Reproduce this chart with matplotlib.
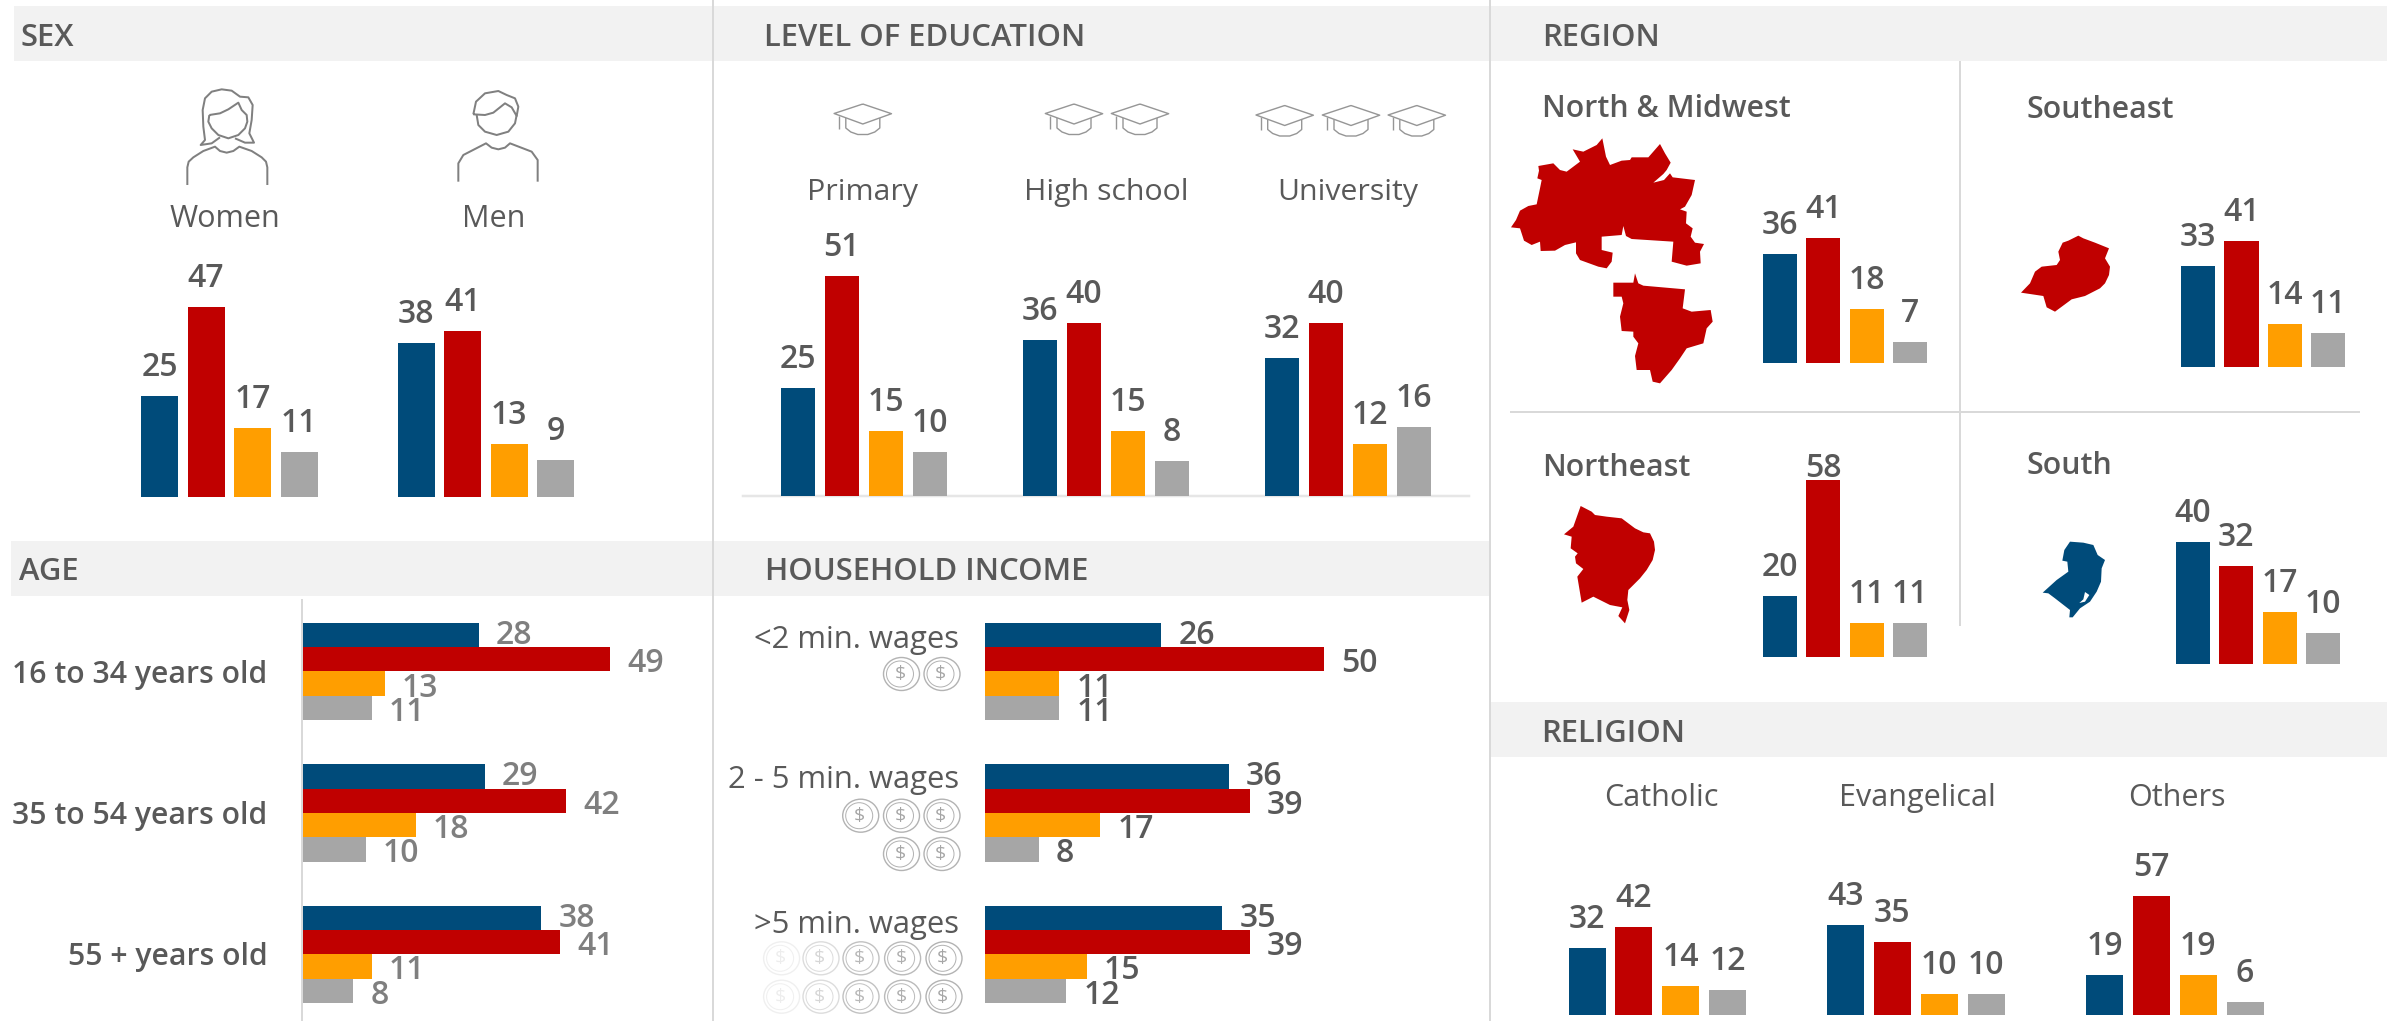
# ./plot.py
import matplotlib
matplotlib.use("Agg")
import matplotlib.pyplot as plt
from matplotlib.patches import Ellipse, Polygon, Rectangle

W, H = 2387, 1021

# data
sex_labels = ["Women", "Men"]
sex_values = [[25, 47, 17, 11], [38, 41, 13, 9]]

edu_labels = ["Primary", "High school", "University"]
edu_values = [[25, 51, 15, 10], [36, 40, 15, 8], [32, 40, 12, 16]]

age_labels = ["16 to 34 years old", "35 to 54 years old", "55 + years old"]
age_values = [[28, 49, 13, 11], [29, 42, 18, 10], [38, 41, 11, 8]]

income_labels = ["<2 min. wages", "2 - 5 min. wages", ">5 min. wages"]
income_values = [[26, 50, 11, 11], [36, 39, 17, 8], [35, 39, 15, 12]]

region_labels = ["North & Midwest", "Southeast", "Northeast", "South"]
region_values = [[36, 41, 18, 7], [33, 41, 14, 11], [20, 58, 11, 11], [40, 32, 17, 10]]

religion_labels = ["Catholic", "Evangelical", "Others"]
religion_values = [[32, 42, 14, 12], [43, 35, 10, 10], [19, 57, 19, 6]]

COLORS = ["#004b7a", "#c00000", "#ff9e00", "#a6a6a6"]
TEXT = "#595959"
LINE = "#d9d9d9"
BAND = "#f2f2f2"
FONT = "Open Sans"
VAL_SIZE = 23
px = 0.72  # pixels to points at dpi 100

plt.rcParams["font.family"] = [FONT, "DejaVu Sans"]

fig = plt.figure(figsize=(W / 100, H / 100), dpi=100, facecolor="white")

# full size axes in pixel coordinates for the bands, icons and titles
bg = fig.add_axes([0, 0, 1, 1])
bg.set_xlim(0, W)
bg.set_ylim(H, 0)
bg.axis("off")


def vbars(x0, base, values, unit, width, pitch, gap=20, gaps=None):
    base = base + 0.5
    span = pitch * 3 + width
    tall = max(values) * unit + 50
    ax = fig.add_axes([x0 / W, 1 - base / H, span / W, tall / H])
    ax.set_xlim(-width / 2 / pitch, 3 + width / 2 / pitch)
    ax.set_ylim(0, tall / unit)
    ax.axis("off")
    ax.bar(range(4), values, width=width / pitch, color=COLORS)
    for i, v in enumerate(values):
        g = gaps[i] if gaps else gap
        ax.annotate(str(v), (i, v), xytext=(0, g * px), textcoords="offset points",
                    ha="center", va="baseline", fontsize=VAL_SIZE, color=TEXT,
                    fontweight="semibold", annotation_clip=False)


def hbars(x0, y0, values, unit, height, color):
    y0 = y0 + 0.5
    span = max(values) * unit + 60
    ax = fig.add_axes([x0 / W, 1 - (y0 + height * 4) / H, span / W, height * 4 / H])
    ax.set_xlim(0, span / unit)
    ax.set_ylim(3.5, -0.5)
    ax.axis("off")
    ax.barh(range(4), values, height=1.0, color=COLORS)
    for i, v in enumerate(values):
        drop = 9 if i == 0 else 13
        ax.annotate(str(v), (v, i), xytext=(17 * px, -drop * px), textcoords="offset points",
                    ha="left", va="baseline", fontsize=VAL_SIZE, color=color,
                    fontweight="semibold", annotation_clip=False)


def line(pts, ox, oy, s=1 / 3, color="#808080", lw=2.0):
    bg.plot([ox + p[0] * s for p in pts], [oy + p[1] * s for p in pts], color=color,
            lw=lw * px, solid_joinstyle="round", solid_capstyle="butt")


def shape(pts, ox, oy, color, s=1 / 3):
    bg.add_patch(Polygon([(ox + p[0] * s, oy + p[1] * s) for p in pts], closed=True,
                         facecolor=color, edgecolor="none"))


def cap(cx, ty):
    c = "#969696"
    line([(0, 0), (28.7, 9.7), (0, 20), (-28.7, 9.5), (0, 0)], cx, ty, s=1, color=c, lw=1.4)
    line([(-17, 14), (-17, 24), (-12, 28), (-5, 30.5), (5, 30.5), (12, 28), (17, 24), (17, 14)],
         cx, ty, s=1, color=c, lw=1.4)
    line([(-23.7, 12), (-23.7, 25)], cx, ty, s=1, color=c, lw=1.4)


def coin(cx, cy, alpha=1.0):
    c = "#b3b3b3"
    bg.add_patch(Ellipse((cx, cy), 36, 33, facecolor="none", edgecolor=c, lw=1.4 * px, alpha=alpha))
    bg.add_patch(Ellipse((cx - 1.5, cy), 27, 26, facecolor="none", edgecolor=c, lw=1.0 * px, alpha=alpha))
    bg.text(cx - 1.5, cy, "$", ha="center", va="center", fontsize=14, color="#a6a6a6", alpha=alpha)


# bands
bg.add_patch(Rectangle((14, 6), W - 14, 55, color=BAND, lw=0))
bg.add_patch(Rectangle((11, 541), 1490 - 11, 55, color=BAND, lw=0))
bg.add_patch(Rectangle((1490, 702), W - 1490, 55, color=BAND, lw=0))

# dividers
bg.plot([713, 713], [0, H], color=LINE, lw=2 * px)
bg.plot([1490, 1490], [0, H], color=LINE, lw=2 * px)
bg.plot([302, 302], [600, H], color=LINE, lw=2 * px)
bg.plot([1960, 1960], [62, 625], color=LINE, lw=2 * px)
bg.plot([1511, 2359], [412, 412], color=LINE, lw=2 * px)
bg.plot([743, 1469], [496, 496], color="#e6e6e6", lw=2.5 * px)

# section titles
for txt, x, y in [("SEX", 21, 46), ("LEVEL OF EDUCATION", 764, 46), ("REGION", 1542, 46),
                  ("AGE", 19, 580), ("HOUSEHOLD INCOME", 765, 580), ("RELIGION", 1541, 742)]:
    bg.text(x, y, txt, ha="left", va="baseline", fontsize=22.3, color=TEXT, fontweight="semibold")

# sex
for lab, x in zip(sex_labels, [225, 493.5]):
    bg.text(x, 227, lab, ha="center", va="baseline", fontsize=22, color=TEXT)
for vals, x in zip(sex_values, [141, 397.6]):
    vbars(x, 496, vals, 4.04, 37, 46.5)

line([(52, 315), (52, 262), (56, 245), (70, 232), (100, 213), (135, 200), (150, 213), (170, 218),
      (190, 213), (208, 200), (245, 213), (275, 232), (288, 245), (292, 262), (292, 315)], 170, 80)
line([(118, 105), (150, 100), (175, 88), (205, 68), (215, 90), (230, 105), (232, 125), (225, 145),
      (205, 165), (175, 175), (145, 165), (125, 145), (115, 125), (118, 105)], 170, 80)
line([(195, 175), (225, 188), (252, 188), (238, 160), (245, 120), (248, 75), (235, 52), (210, 50),
      (185, 32), (155, 28), (125, 35), (105, 55), (98, 90), (100, 140), (105, 180), (92, 195),
      (125, 190), (150, 172)], 170, 80)
line([(865, 305), (865, 250), (880, 225), (948, 190), (965, 203), (985, 208), (1005, 203),
      (1020, 190), (1085, 215), (1103, 240), (1103, 305)], 170, 80)
line([(920, 105), (925, 135), (945, 155), (980, 165), (1015, 155), (1035, 130), (1040, 105)], 170, 80)
line([(910, 103), (945, 105), (970, 98), (1005, 70), (1025, 82), (1040, 108), (1045, 80), (1035, 55),
      (1010, 45), (985, 33), (945, 40), (918, 65), (910, 103)], 170, 80)

# education
for lab, x in zip(edu_labels, [863, 1106, 1348]):
    bg.text(x, 200, lab, ha="center", va="baseline", fontsize=21.8, color=TEXT)
for vals, x in zip(edu_values, [780.6, 1023, 1264.8]):
    vbars(x, 495, vals, 4.31, 34.3, 44)
cap(862.8, 104)
for x in [1074, 1140]:
    cap(x, 104)
for x in [1284.7, 1351, 1416.8]:
    cap(x, 105.5)

# age
for lab, y, vals, base in zip(age_labels, [682.5, 823.5, 965], age_values, [622.3, 763.7, 905]):
    bg.text(267.5, y, lab, ha="right", va="baseline", fontsize=21.7, color=TEXT, fontweight="semibold")
    hbars(303, base, vals, 6.27, 24.35, "#7f7f7f")

# income
for lab, y, vals, base in zip(income_labels, [648, 788, 933], income_values, [622.3, 763.7, 905]):
    bg.text(959, y, lab, ha="right", va="baseline", fontsize=22.3, color=TEXT)
    hbars(984.7, base, vals, 6.79, 24.35, TEXT)
for x in [901.5, 942]:
    coin(x, 674)
    coin(x, 854)
for x in [860.7, 901.5, 942]:
    coin(x, 815.7)
for x, a in zip([781.6, 821, 861, 902.6, 944], [0.2, 0.45, 0.8, 0.9, 1.0]):
    coin(x, 958.3, a)
    coin(x, 996.7, a)

# region
for lab, x, y in zip(region_labels, [1542.5, 2026, 1542.5, 2026], [117, 118, 476, 474]):
    bg.text(x, y, lab, ha="left", va="baseline", fontsize=21.8, color=TEXT, fontweight="semibold")
vbars(1762.8, 363, region_values[0], 3.05, 34.1, 43.4)
vbars(2181, 366, region_values[1], 3.05, 34.1, 43.4)
vbars(1762.8, 656, region_values[2], 3.04, 34.1, 43.4, gaps=[20, 3, 20, 20])
vbars(2175.8, 663, region_values[3], 3.05, 34.1, 43.4)

shape([(33, 322), (48, 300), (60, 272), (85, 258), (110, 253), (120, 205), (125, 180), (112, 175),
       (117, 152), (115, 138), (160, 130), (180, 150), (200, 155), (240, 125), (218, 88), (250, 95),
       (290, 75), (307, 55), (318, 110), (330, 135), (365, 122), (390, 120), (395, 112), (445, 112),
       (480, 72), (495, 100), (512, 128), (500, 150), (490, 162), (460, 188), (492, 180), (510, 160),
       (518, 172), (585, 180), (575, 225), (555, 260), (540, 268), (560, 275), (558, 310), (578, 325),
       (572, 350), (585, 368), (612, 372), (600, 395), (602, 430), (560, 437), (515, 425), (520, 365),
       (395, 357), (378, 348), (370, 318), (365, 345), (305, 350), (305, 390), (338, 398), (335, 425),
       (320, 445), (295, 440), (240, 420), (228, 400), (228, 367), (195, 375), (165, 392), (122, 393),
       (120, 365), (95, 375), (72, 362), (60, 325)], 1500, 120, COLORS[1])
shape([(340, 488), (400, 488), (405, 460), (415, 490), (430, 497), (555, 508), (548, 565), (575, 575),
       (632, 570), (638, 605), (620, 625), (610, 670), (560, 685), (540, 715), (515, 750), (480, 790),
       (458, 785), (450, 750), (410, 750), (405, 708), (415, 670), (400, 650), (400, 635), (365, 633),
       (360, 590), (370, 550), (365, 530), (340, 530)], 1500, 120, COLORS[1])
shape([(33, 218), (60, 190), (75, 155), (95, 140), (140, 135), (150, 120), (145, 95), (158, 68),
       (175, 62), (205, 47), (220, 55), (255, 68), (297, 85), (285, 115), (300, 140), (297, 165),
       (285, 190), (270, 205), (225, 228), (185, 238), (135, 275), (110, 262), (100, 228), (60, 222)],
      2010, 220, COLORS[1])
shape([(42, 103), (70, 80), (92, 18), (125, 35), (135, 45), (170, 50), (215, 55), (255, 85), (280, 97),
       (300, 100), (312, 125), (315, 150), (308, 180), (290, 210), (270, 235), (235, 270), (232, 300),
       (238, 330), (225, 370), (205, 348), (217, 322), (180, 315), (140, 295), (130, 290), (95, 308),
       (82, 230), (100, 207), (78, 190), (75, 170), (83, 160), (62, 145), (65, 110)],
      1550, 500, COLORS[1])
shape([(38, 188), (80, 150), (115, 125), (112, 95), (97, 92), (103, 60), (120, 35), (160, 38), (190, 45),
       (203, 75), (225, 90), (215, 115), (213, 155), (200, 185), (180, 215), (150, 235), (128, 262),
       (118, 262), (120, 240), (75, 205), (55, 190)], 2030, 530, COLORS[0])
shape([(148, 219), (160, 208), (165, 186), (178, 195), (165, 215)], 2030, 530, "white")

# religion
for lab, x in zip(religion_labels, [1661.6, 1917.8, 2177]):
    bg.text(x, 806, lab, ha="center", va="baseline", fontsize=22, color=TEXT)
for vals, x in zip(religion_values, [1568.5, 1827, 2086]):
    vbars(x, 1014.3, vals, 2.09, 37, 46.85)

fig.savefig("out.png", dpi=100)
